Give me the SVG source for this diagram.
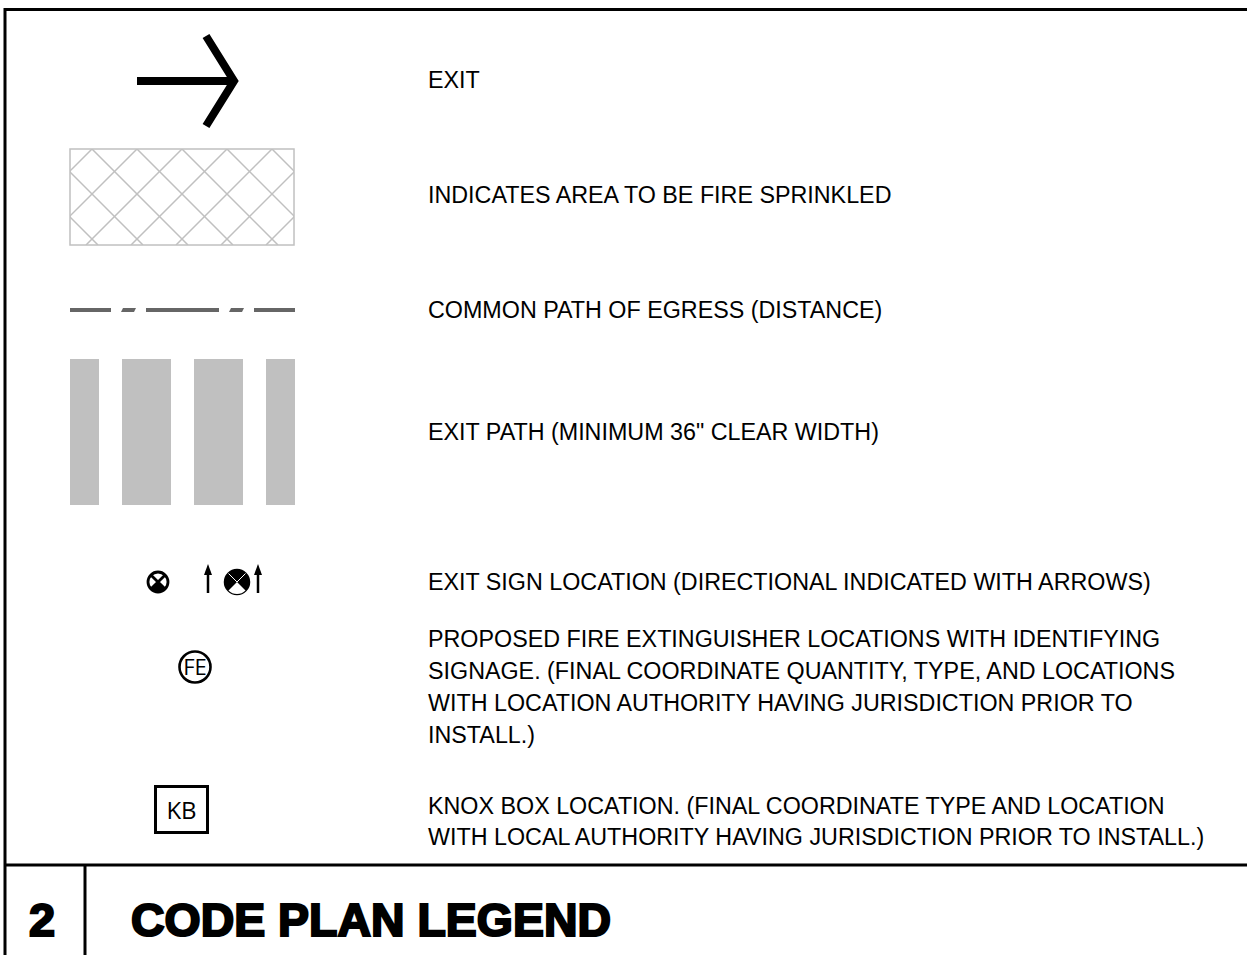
<svg xmlns="http://www.w3.org/2000/svg" width="1247" height="955" viewBox="0 0 1247 955">
<style>
.lbl{font-family:"Liberation Sans",Arial,sans-serif;font-size:23.3px;fill:#000}
.frame{stroke:#000;stroke-width:3;fill:none}
.hatch{stroke:#c0c0c0;stroke-width:1.5;fill:none}
.bar{fill:#c0c0c0}
.dash{fill:#666}
.sym{font-family:"Open Sans","Noto Sans",sans-serif;fill:#000;text-anchor:middle}
.title{font-family:"Liberation Sans",Arial,sans-serif;font-weight:bold;font-size:47px;fill:#000;stroke:#000;stroke-width:2.2}
</style>
<defs>
<clipPath id="hc"><rect x="70" y="149" width="224" height="96"/></clipPath>
</defs>
<rect x="0" y="0" width="1247" height="955" fill="#fff"/>
<g id="frame">
<path class="frame" d="M5,955 V9.5 H1247"/>
<path class="frame" d="M5,865 H1247"/>
<path class="frame" d="M85,865 V955"/>
</g>
<g id="exit">
<path d="M137,81 H232" stroke="#000" stroke-width="8" fill="none"/>
<path d="M206,36 L234,81 L206,126" stroke="#000" stroke-width="8" fill="none" stroke-linejoin="miter"/>
<text class="lbl" x="428" y="88">EXIT</text>
</g>
<g id="sprinkled">
<g clip-path="url(#hc)" class="hatch">
<path d="M-43,149 l96,96 M2,149 l96,96 M47,149 l96,96 M92,149 l96,96 M137,149 l96,96 M182,149 l96,96 M227,149 l96,96 M272,149 l96,96"/>
<path d="M92,149 l-96,96 M137,149 l-96,96 M182,149 l-96,96 M227,149 l-96,96 M272,149 l-96,96 M317,149 l-96,96 M362,149 l-96,96 M407,149 l-96,96"/>
</g>
<rect class="hatch" x="70" y="149" width="224" height="96"/>
<text class="lbl" x="428" y="203">INDICATES AREA TO BE FIRE SPRINKLED</text>
</g>
<g id="egress">
<rect class="dash" x="70" y="308" width="41" height="4"/>
<path class="dash" d="M121,312 L123,308 L136,308 L134,312 Z"/>
<rect class="dash" x="146" y="308" width="73" height="4"/>
<path class="dash" d="M229,312 L231,308 L244,308 L242,312 Z"/>
<rect class="dash" x="254" y="308" width="41" height="4"/>
<text class="lbl" x="428" y="318">COMMON PATH OF EGRESS (DISTANCE)</text>
</g>
<g id="exitpath">
<rect class="bar" x="70" y="359" width="29" height="146"/>
<rect class="bar" x="122" y="359" width="49" height="146"/>
<rect class="bar" x="194" y="359" width="49" height="146"/>
<rect class="bar" x="266" y="359" width="29" height="146"/>
<text class="lbl" x="428" y="440">EXIT PATH (MINIMUM 36" CLEAR WIDTH)</text>
</g>
<g id="exitsign">
<g transform="translate(158,582)">
<circle r="10" fill="#fff" stroke="#000" stroke-width="2.8"/>
<path d="M0,0 L-7.1,7.1 A10,10 0 0 0 7.1,7.1 Z" fill="#000"/>
<path d="M-7.1,-7.1 L7.1,7.1 M7.1,-7.1 L-7.1,7.1" stroke="#000" stroke-width="2.8"/>
</g>
<g transform="translate(237,582)">
<circle r="12" fill="#000" stroke="#000" stroke-width="2.5"/>
<path d="M0,0 L-8.5,8.5 A12,12 0 0 0 8.5,8.5 Z" fill="#fff"/>
<path d="M-8.5,-8.5 L0,0 L8.5,-8.5" stroke="#fff" stroke-width="1" fill="none"/>
</g>
<path d="M208,593 V573" stroke="#000" stroke-width="2.5"/>
<path d="M208,564 L212,575 L204,575 Z" fill="#000"/>
<path d="M258,593 V573" stroke="#000" stroke-width="2.5"/>
<path d="M258,564 L262,575 L254,575 Z" fill="#000"/>
<text class="lbl" x="428" y="590">EXIT SIGN LOCATION (DIRECTIONAL INDICATED WITH ARROWS)</text>
</g>
<g id="fe">
<circle cx="195" cy="667" r="15.5" fill="none" stroke="#000" stroke-width="2.6"/>
<text class="sym" x="195" y="675" font-size="22">FE</text>
<text class="lbl" x="428" y="647">PROPOSED FIRE EXTINGUISHER LOCATIONS WITH IDENTIFYING</text>
<text class="lbl" x="428" y="679">SIGNAGE. (FINAL COORDINATE QUANTITY, TYPE, AND LOCATIONS</text>
<text class="lbl" x="428" y="711">WITH LOCATION AUTHORITY HAVING JURISDICTION PRIOR TO</text>
<text class="lbl" x="428" y="743">INSTALL.)</text>
</g>
<g id="kb">
<rect x="155.5" y="786.5" width="52" height="46" fill="none" stroke="#000" stroke-width="3"/>
<text class="sym" x="181.5" y="818.5" font-size="24">KB</text>
<text class="lbl" x="428" y="814">KNOX BOX LOCATION. (FINAL COORDINATE TYPE AND LOCATION</text>
<text class="lbl" x="428" y="845">WITH LOCAL AUTHORITY HAVING JURISDICTION PRIOR TO INSTALL.)</text>
</g>
<g id="title">
<text class="title" x="42" y="936" text-anchor="middle">2</text>
<text class="title" x="131" y="936" textLength="480" lengthAdjust="spacingAndGlyphs">CODE PLAN LEGEND</text>
</g>
</svg>
